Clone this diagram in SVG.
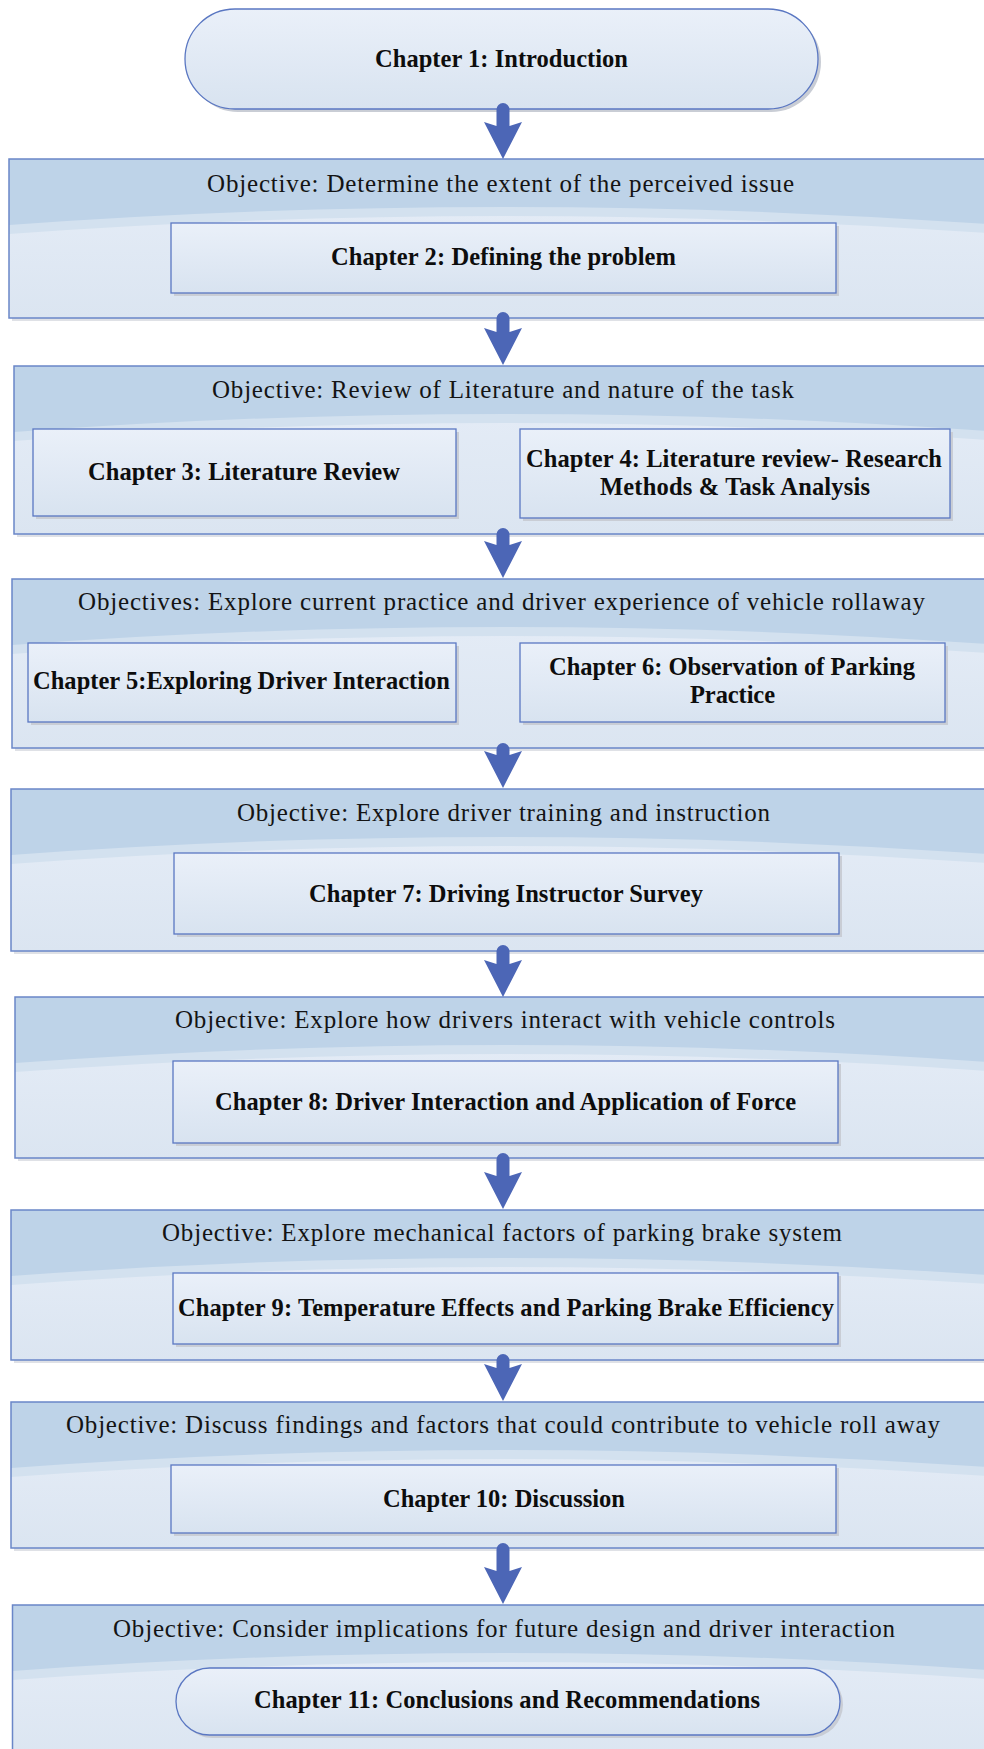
<svg xmlns="http://www.w3.org/2000/svg" width="984" height="1749" viewBox="0 0 984 1749">
  <defs>
    <linearGradient id="bodyFill" x1="0" y1="0" x2="0" y2="1">
      <stop offset="0" stop-color="#e7eef8"/>
      <stop offset="1" stop-color="#dbe5f1"/>
    </linearGradient>
    <linearGradient id="boxFill" x1="0" y1="0" x2="0" y2="1">
      <stop offset="0" stop-color="#eaf0f9"/>
      <stop offset="1" stop-color="#d8e3f0"/>
    </linearGradient>
    <style>
      .shadow { fill: #dfe1e6; }
      .body { fill: url(#bodyFill); }
      .strip { fill: #d3e1ef; }
      .band { fill: #bed3e8; }
      .frame { fill: none; stroke: #6a86c8; stroke-width: 1.5; }
      .box { fill: url(#boxFill); stroke: #5a77c2; stroke-width: 1.3; }
      .boxshadow { fill: #c9cdd5; }
      .obj { font-family: "Liberation Serif", "Times New Roman", serif; font-size: 25px; fill: #141414; }
      .ch { font-family: "Liberation Serif", "Times New Roman", serif; font-size: 24.5px; font-weight: bold; fill: #0d0d0d; }
      .arrow { fill: #4c66b6; }
    </style>
  </defs>

  <rect width="984" height="1749" fill="#ffffff"/>

  <!-- Chapter 1 terminator -->
  <g id="chapter1">
    <rect class="boxshadow" x="188" y="12" width="633" height="100" rx="50" ry="50"/>
    <rect class="box" x="185" y="9" width="633" height="100" rx="50" ry="50"/>
    <text class="ch" x="375" y="67" textLength="253" lengthAdjust="spacing">Chapter 1: Introduction</text>
  </g>

  <!-- Stage 1 -->
  <g id="stage1">
    <rect class="shadow" x="12" y="162" width="990" height="159"/>
    <rect class="body" x="9" y="159" width="991" height="159"/>
    <path class="strip" d="M9,159 H1000 V234 Q503,198 9,234 Z"/>
    <path class="band" d="M9,159 H1000 V225 Q503,189 9,225 Z"/>
    <rect class="frame" x="9" y="159" width="991" height="159"/>
    <text class="obj" x="207" y="192" textLength="587" lengthAdjust="spacing">Objective: Determine the extent of the perceived issue</text>
  </g>
  <g id="chapter2">
    <rect class="boxshadow" x="174" y="226" width="665" height="70"/>
    <rect class="box" x="171" y="223" width="665" height="70"/>
    <text class="ch" x="331" y="265" textLength="345" lengthAdjust="spacing">Chapter 2: Defining the problem</text>
  </g>

  <!-- Stage 2 -->
  <g id="stage2">
    <rect class="shadow" x="17" y="369" width="990" height="168"/>
    <rect class="body" x="14" y="366" width="986" height="168"/>
    <path class="strip" d="M14,366 H1000 V441 Q503,405 14,441 Z"/>
    <path class="band" d="M14,366 H1000 V432 Q503,396 14,432 Z"/>
    <rect class="frame" x="14" y="366" width="986" height="168"/>
    <text class="obj" x="212" y="398" textLength="582" lengthAdjust="spacing">Objective: Review of Literature and nature of the task</text>
  </g>
  <g id="chapter3">
    <rect class="boxshadow" x="36" y="432" width="423" height="87"/>
    <rect class="box" x="33" y="429" width="423" height="87"/>
    <text class="ch" x="88" y="480" textLength="312" lengthAdjust="spacing">Chapter 3: Literature Review</text>
  </g>
  <g id="chapter4">
    <rect class="boxshadow" x="523" y="432" width="430" height="89"/>
    <rect class="box" x="520" y="429" width="430" height="89"/>
    <text class="ch" x="526" y="467" textLength="416" lengthAdjust="spacing">Chapter 4: Literature review- Research</text>
    <text class="ch" x="600" y="495" textLength="270" lengthAdjust="spacing">Methods &amp; Task Analysis</text>
  </g>

  <!-- Stage 3 -->
  <g id="stage3">
    <rect class="shadow" x="15" y="582" width="990" height="169"/>
    <rect class="body" x="12" y="579" width="988" height="169"/>
    <path class="strip" d="M12,579 H1000 V654 Q503,618 12,654 Z"/>
    <path class="band" d="M12,579 H1000 V645 Q503,609 12,645 Z"/>
    <rect class="frame" x="12" y="579" width="988" height="169"/>
    <text class="obj" x="78" y="610" textLength="847" lengthAdjust="spacing">Objectives: Explore current practice and driver experience of vehicle rollaway</text>
  </g>
  <g id="chapter5">
    <rect class="boxshadow" x="31" y="646" width="428" height="79"/>
    <rect class="box" x="28" y="643" width="428" height="79"/>
    <text class="ch" x="33" y="689" textLength="417" lengthAdjust="spacing">Chapter 5:Exploring Driver Interaction</text>
  </g>
  <g id="chapter6">
    <rect class="boxshadow" x="523" y="646" width="425" height="79"/>
    <rect class="box" x="520" y="643" width="425" height="79"/>
    <text class="ch" x="549" y="675" textLength="366" lengthAdjust="spacing">Chapter 6: Observation of Parking</text>
    <text class="ch" x="690" y="703" textLength="85" lengthAdjust="spacing">Practice</text>
  </g>

  <!-- Stage 4 -->
  <g id="stage4">
    <rect class="shadow" x="14" y="792" width="990" height="162"/>
    <rect class="body" x="11" y="789" width="989" height="162"/>
    <path class="strip" d="M11,789 H1000 V864 Q503,828 11,864 Z"/>
    <path class="band" d="M11,789 H1000 V855 Q503,819 11,855 Z"/>
    <rect class="frame" x="11" y="789" width="989" height="162"/>
    <text class="obj" x="237" y="821" textLength="533" lengthAdjust="spacing">Objective: Explore driver training and instruction</text>
  </g>
  <g id="chapter7">
    <rect class="boxshadow" x="177" y="856" width="665" height="81"/>
    <rect class="box" x="174" y="853" width="665" height="81"/>
    <text class="ch" x="309" y="902" textLength="394" lengthAdjust="spacing">Chapter 7: Driving Instructor Survey</text>
  </g>

  <!-- Stage 5 -->
  <g id="stage5">
    <rect class="shadow" x="18" y="1000" width="990" height="161"/>
    <rect class="body" x="15" y="997" width="985" height="161"/>
    <path class="strip" d="M15,997 H1000 V1072 Q503,1036 15,1072 Z"/>
    <path class="band" d="M15,997 H1000 V1063 Q503,1027 15,1063 Z"/>
    <rect class="frame" x="15" y="997" width="985" height="161"/>
    <text class="obj" x="175" y="1028" textLength="660" lengthAdjust="spacing">Objective: Explore how drivers interact with vehicle controls</text>
  </g>
  <g id="chapter8">
    <rect class="boxshadow" x="176" y="1064" width="665" height="82"/>
    <rect class="box" x="173" y="1061" width="665" height="82"/>
    <text class="ch" x="215" y="1110" textLength="581" lengthAdjust="spacing">Chapter 8: Driver Interaction and Application of Force</text>
  </g>

  <!-- Stage 6 -->
  <g id="stage6">
    <rect class="shadow" x="14" y="1213" width="990" height="150"/>
    <rect class="body" x="11" y="1210" width="989" height="150"/>
    <path class="strip" d="M11,1210 H1000 V1285 Q503,1249 11,1285 Z"/>
    <path class="band" d="M11,1210 H1000 V1276 Q503,1240 11,1276 Z"/>
    <rect class="frame" x="11" y="1210" width="989" height="150"/>
    <text class="obj" x="162" y="1241" textLength="680" lengthAdjust="spacing">Objective: Explore mechanical factors of parking brake system</text>
  </g>
  <g id="chapter9">
    <rect class="boxshadow" x="176" y="1276" width="665" height="71"/>
    <rect class="box" x="173" y="1273" width="665" height="71"/>
    <text class="ch" x="178" y="1316" textLength="656" lengthAdjust="spacing">Chapter 9: Temperature Effects and Parking Brake Efficiency</text>
  </g>

  <!-- Stage 7 -->
  <g id="stage7">
    <rect class="shadow" x="14" y="1405" width="990" height="146"/>
    <rect class="body" x="11" y="1402" width="989" height="146"/>
    <path class="strip" d="M11,1402 H1000 V1477 Q503,1441 11,1477 Z"/>
    <path class="band" d="M11,1402 H1000 V1468 Q503,1432 11,1468 Z"/>
    <rect class="frame" x="11" y="1402" width="989" height="146"/>
    <text class="obj" x="66" y="1433" textLength="874" lengthAdjust="spacing">Objective: Discuss findings and factors that could contribute to vehicle roll away</text>
  </g>
  <g id="chapter10">
    <rect class="boxshadow" x="174" y="1468" width="665" height="68"/>
    <rect class="box" x="171" y="1465" width="665" height="68"/>
    <text class="ch" x="383" y="1507" textLength="242" lengthAdjust="spacing">Chapter 10: Discussion</text>
  </g>

  <!-- Stage 8 -->
  <g id="stage8">
    <rect class="body" x="12.5" y="1605" width="988" height="160"/>
    <path class="strip" d="M12.5,1605 H1000 V1680 Q503,1644 12.5,1680 Z"/>
    <path class="band" d="M12.5,1605 H1000 V1671 Q503,1635 12.5,1671 Z"/>
    <rect class="frame" x="12.5" y="1605" width="988" height="160"/>
    <text class="obj" x="113" y="1637" textLength="782" lengthAdjust="spacing">Objective: Consider implications for future design and driver interaction</text>
  </g>
  <g id="chapter11">
    <rect class="boxshadow" x="179" y="1671" width="664" height="67" rx="33.5" ry="33.5"/>
    <rect class="box" x="176" y="1668" width="664" height="67" rx="33.5" ry="33.5"/>
    <text class="ch" x="254" y="1708" textLength="506" lengthAdjust="spacing">Chapter 11: Conclusions and Recommendations</text>
  </g>

  <!-- Flow arrows between stages -->
  <g id="connectors">
    <path class="arrow" d="M496.5,109.5 A6.5,6.5 0 0 1 509.5,109.5 V126 L522,122 L503,159 L484,122 L496.5,126 Z"/>
    <path class="arrow" d="M496.5,318.5 A6.5,6.5 0 0 1 509.5,318.5 V332 L522,328 L503,365 L484,328 L496.5,332 Z"/>
    <path class="arrow" d="M496.5,534.5 A6.5,6.5 0 0 1 509.5,534.5 V545 L522,541 L503,578 L484,541 L496.5,545 Z"/>
    <path class="arrow" d="M496.5,749.5 A6.5,6.5 0 0 1 509.5,749.5 V755 L522,751 L503,788 L484,751 L496.5,755 Z"/>
    <path class="arrow" d="M496.5,951.5 A6.5,6.5 0 0 1 509.5,951.5 V964 L522,960 L503,997 L484,960 L496.5,964 Z"/>
    <path class="arrow" d="M496.5,1159.5 A6.5,6.5 0 0 1 509.5,1159.5 V1176 L522,1172 L503,1209 L484,1172 L496.5,1176 Z"/>
    <path class="arrow" d="M496.5,1360.5 A6.5,6.5 0 0 1 509.5,1360.5 V1368 L522,1364 L503,1401 L484,1364 L496.5,1368 Z"/>
    <path class="arrow" d="M496.5,1549.5 A6.5,6.5 0 0 1 509.5,1549.5 V1571 L522,1567 L503,1604 L484,1567 L496.5,1571 Z"/>
  </g>
</svg>
